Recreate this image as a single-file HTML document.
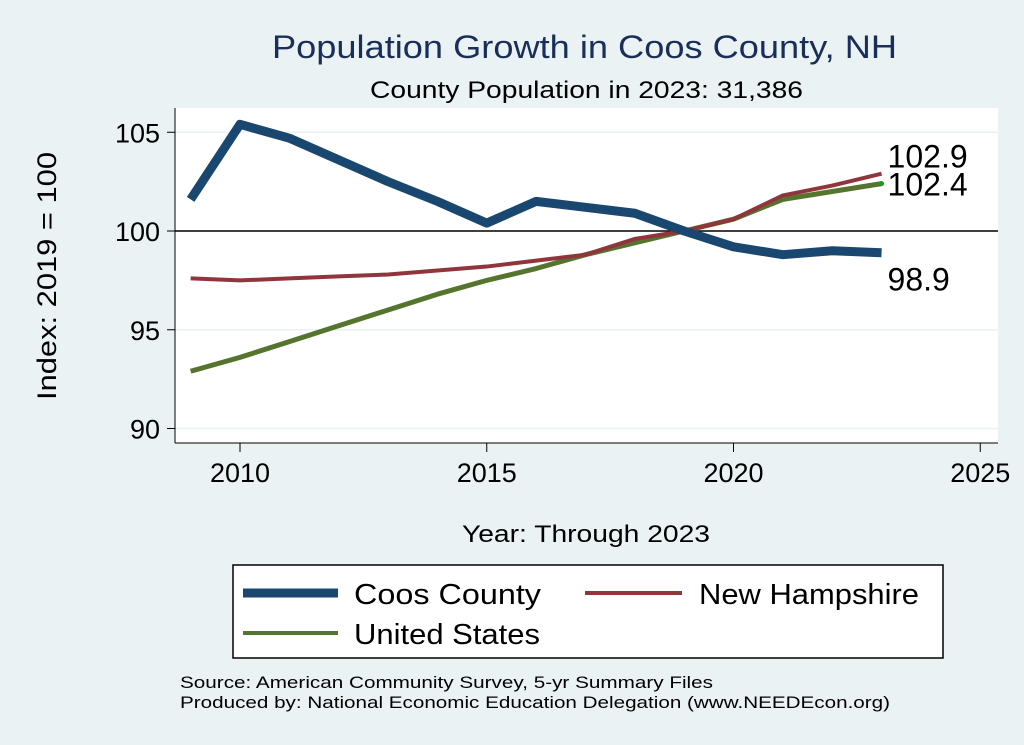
<!DOCTYPE html>
<html><head><meta charset="utf-8"><style>
body{margin:0;background:#eaf2f3;}
svg{display:block;font-family:"Liberation Sans",Arial,sans-serif;}
</style></head><body>
<svg id="c" width="1024" height="745">
<rect width="1024" height="745" fill="#eaf2f3"/>
<rect x="175" y="108" width="823" height="335" fill="#fff"/>
<text x="272" y="58" font-size="32" fill="#1a2e5a" textLength="625" lengthAdjust="spacingAndGlyphs">Population Growth in Coos County, NH</text>
<text x="370" y="98" font-size="24" fill="#000" textLength="433" lengthAdjust="spacingAndGlyphs">County Population in 2023: 31,386</text>
<text transform="translate(56,400) rotate(-90)" font-size="27" textLength="248" lengthAdjust="spacingAndGlyphs">Index: 2019 = 100</text>
<text x="462" y="542" font-size="24" textLength="248" lengthAdjust="spacingAndGlyphs">Year: Through 2023</text>
<g id="axes"></g>
<g id="series"></g>
<g>
<rect x="233" y="565" width="710" height="93" fill="#fff" stroke="#000" stroke-width="1.5"/>
<line x1="243" y1="593" x2="338" y2="593" stroke="#1a476f" stroke-width="9"/>
<text x="354" y="604" font-size="29" textLength="187" lengthAdjust="spacingAndGlyphs">Coos  County</text>
<line x1="585" y1="593" x2="682" y2="593" stroke="#90353b" stroke-width="4"/>
<text x="699" y="604" font-size="29" textLength="220" lengthAdjust="spacingAndGlyphs">New Hampshire</text>
<line x1="243" y1="633" x2="338" y2="633" stroke="#55752f" stroke-width="4"/>
<text x="354" y="644" font-size="29" textLength="186" lengthAdjust="spacingAndGlyphs">United States</text>
</g>
<text x="180" y="688" font-size="17" textLength="533" lengthAdjust="spacingAndGlyphs">Source: American Community Survey, 5-yr Summary Files</text>
<text x="180" y="708" font-size="17" textLength="710" lengthAdjust="spacingAndGlyphs">Produced by: National Economic Education Delegation (www.NEEDEcon.org)</text>
</svg>
<script>
const years=[2009,2010,2011,2012,2013,2014,2015,2016,2017,2018,2019,2020,2021,2022,2023];
const coos=[101.6,105.4,104.7,103.6,102.5,101.5,100.4,101.5,101.2,100.9,100.0,99.2,98.8,99.0,98.9];
const nh=[97.6,97.5,97.6,97.7,97.8,98.0,98.2,98.5,98.8,99.6,100.0,100.6,101.8,102.3,102.9];
const us=[92.9,93.6,94.4,95.2,96.0,96.8,97.5,98.1,98.8,99.4,100.0,100.6,101.6,102.0,102.4];
const xTicks=[2010,2015,2020,2025];
const yTicks=[90,95,100,105];
const NS='http://www.w3.org/2000/svg';
const X=v=>240+(v-2010)*49.35;
const Y=v=>231-(v-100)*19.75;
function mk(t,a,p){const e=document.createElementNS(NS,t);for(const k in a)e.setAttribute(k,a[k]);p.appendChild(e);return e;}
const ax=document.getElementById('axes');
yTicks.forEach(t=>{
 if(t!==100){const g=mk('line',{x1:175,x2:998,y1:Y(t),y2:Y(t),stroke:'#eaf2f3','stroke-width':1.5},ax);
 
 }
 const tk=mk('line',{x1:167,x2:175,y1:Y(t),y2:Y(t),stroke:'#000'},ax);
 
 
 const l=mk('text',{x:160,y:Y(t)+10,'font-size':27,'text-anchor':'end'},ax);l.textContent=t;
 
 
});
const ref=mk('line',{x1:175,x2:998,y1:Y(100),y2:Y(100),stroke:'#000','stroke-width':1.5},ax);


const yl=mk('line',{x1:175,x2:175,y1:108,y2:443,stroke:'#000'},ax);


const xl=mk('line',{x1:175,x2:998,y1:443,y2:443,stroke:'#000'},ax);


xTicks.forEach(t=>{
 const tk=mk('line',{x1:X(t),x2:X(t),y1:443,y2:452,stroke:'#000'},ax);
 
 
 const l=mk('text',{x:X(t),y:482,'font-size':27,'text-anchor':'middle'},ax);l.textContent=t;
 
 
});
const sg=document.getElementById('series');
function line(vals,color,w,name){
 const p=mk('polyline',{points:vals.map((v,i)=>X(years[i])+','+Y(v)).join(' '),fill:'none',stroke:color,'stroke-width':w,'stroke-linejoin':'round'},sg);
 
 
}
line(us,'#55752f',5,'line-united-states');
line(nh,'#90353b',4,'line-new-hampshire');
line(coos,'#1a476f',9,'line-coos-county');
const last=years.length-1;
const d=mk('circle',{cx:X(years[last]),cy:Y(us[last]),r:2.5,fill:'#1a9a1a'},sg);


[[nh,'label-nh-end',-6],[us,'label-us-end',12],[coos,'label-coos-end',38]].forEach(([s,n,dy])=>{
 const t=mk('text',{x:X(years[last])+6,y:Y(s[last])+dy,'font-size':32},sg);
 t.textContent=s[last].toFixed(1);
 
 
});
</script>
</body></html>
